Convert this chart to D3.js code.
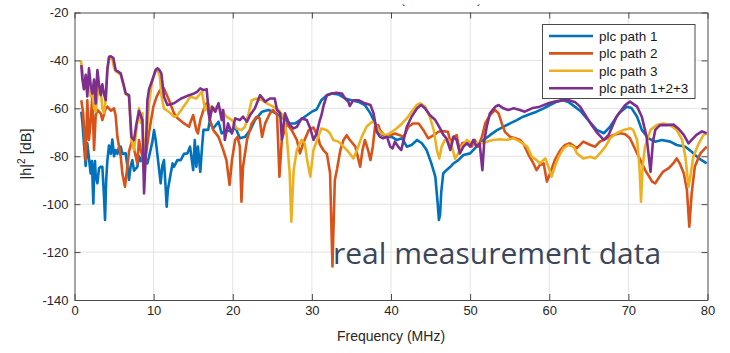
<!DOCTYPE html>
<html>
<head>
<meta charset="utf-8">
<script src="https://cdn.jsdelivr.net/npm/d3@7"></script>
<style>
  body { margin: 0; background: #fff; }
  svg { display: block; }
  .tick text { font-family: "Liberation Sans", Arial, sans-serif; font-size: 13px; fill: #262626; }
</style>
</head>
<body>
<svg id="chart" width="730" height="353"></svg>
<script>
// [frequency MHz, |h|^2 dB]
const path1 = [
  [0.86,-61.4],[1.0,-66],[1.2,-75],[1.41,-84],[1.62,-74.6],[1.8,-80],[2.04,-87.2],[2.2,-82],[2.38,-99.7],[2.5,-85],
  [2.59,-82],[2.68,-88],[2.89,-91.3],[3.1,-85],[3.31,-84.4],[3.52,-84.4],[3.73,-96.9],[3.86,-106.6],[4.0,-90],[4.15,-82],
  [4.36,-75.5],[4.6,-79],[4.78,-73],[5.0,-80],[5.2,-77.4],[5.42,-79],[5.6,-76.5],[5.84,-76],[6.05,-79],[6.47,-78.8],
  [6.68,-84],[6.89,-89.9],[7.1,-84],[7.31,-81.6],[7.52,-86],[7.94,-84.4],[8.15,-80],[8.37,-82],[8.58,-80.2],[8.79,-83],
  [9.21,-83],[9.5,-79],[9.84,-74],[10.05,-69.1],[10.26,-73.2],[10.5,-80],[10.89,-91.3],[11.1,-84],[11.31,-81.6],[11.5,-92],
  [11.65,-101.1],[11.8,-94],[12.16,-87.2],[12.4,-83],[12.58,-84.4],[13.0,-81.6],[13.42,-81.6],[13.84,-79],[14.27,-78.8],[14.6,-76],
  [15.0,-85.8],[15.2,-73.2],[15.4,-84.4],[15.6,-76],[15.9,-86.5],[16.1,-77],[16.3,-69],[16.9,-69],[17.1,-65],[17.5,-68.5],
  [18.2,-65.6],[18.6,-70.5],[19.2,-69.1],[19.9,-69.8],[20.3,-67.7],[20.9,-72.5],[21.55,-71.9],[22.2,-69.1],[22.8,-64.9],[23.7,-61.4],
  [24.5,-60.7],[25.1,-61.4],[25.8,-62.8],[26.4,-64.2],[27.2,-66.3],[27.9,-66.3],[28.5,-64.9],[29.1,-63.5],[30.0,-61.4],[30.6,-60.5],
  [31.2,-56.6],[31.9,-54.5],[32.5,-53.8],[33.35,-54.2],[34.2,-55.9],[35.0,-56.6],[35.9,-57.3],[36.7,-58.6],[37.4,-62.1],[38.0,-66.3],
  [38.6,-70.5],[39.5,-71.9],[40.1,-71.9],[40.7,-73.2],[41.4,-72.5],[42.0,-76],[42.6,-75.3],[43.3,-73.2],[43.9,-74.6],[44.5,-77.4],
  [45.1,-83],[45.6,-88.5],[45.9,-99.7],[46.05,-106.6],[46.2,-104.5],[46.35,-95],[46.6,-87.2],[47.0,-85.8],[47.5,-84.4],[47.9,-83],
  [48.5,-81.6],[49.15,-79.5],[50.0,-78.8],[50.8,-76],[51.7,-73.2],[52.5,-71.2],[53.4,-69.1],[54.2,-67.7],[55.05,-66.3],[55.9,-64.9],
  [56.7,-63.5],[57.6,-62.4],[58.4,-61.4],[59.3,-60],[60.1,-58.6],[60.95,-57.2],[61.8,-56.6],[62.5,-57.5],[63.3,-59.5],[63.9,-61],
  [65.2,-66],[66.0,-69],[66.9,-70.4],[67.7,-67.6],[68.8,-62.1],[69.8,-59.3],[70.4,-59.9],[71.1,-63.5],[71.7,-69],[72.5,-72.5],
  [73.4,-73.9],[74.2,-73.2],[75.3,-73.9],[76.1,-75.3],[77.2,-76],[78.0,-78.1],[78.9,-80.9],[79.9,-83]
];
const path2 = [
  [0.86,-56.6],[1.1,-62],[1.41,-81.6],[1.62,-56.6],[1.83,-73.2],[2.04,-65],[2.25,-55.2],[2.47,-77.4],[2.68,-63],[2.89,-60.7],
  [3.31,-62.1],[3.52,-64.9],[3.94,-60],[4.15,-59.3],[4.6,-61],[4.99,-60],[5.2,-63],[5.42,-71.9],[5.84,-80],[6.05,-87.2],
  [6.38,-92.7],[6.68,-84.4],[6.89,-78],[7.31,-73.2],[7.6,-78],[7.94,-83],[8.15,-73.2],[8.37,-77.4],[8.58,-80],[8.79,-86],
  [9.0,-80],[9.42,-70],[9.97,-59.3],[10.4,-55],[10.81,-52.4],[11.31,-51.7],[11.95,-56.6],[12.58,-62.1],[13.0,-64],[13.84,-66.3],
  [14.48,-67.7],[14.6,-66.3],[15.0,-62.8],[15.4,-69.1],[15.6,-70.5],[15.9,-64.9],[16.3,-60.7],[16.7,-57.9],[17.1,-64.9],[17.55,-69.1],
  [18.2,-71.9],[18.8,-77.4],[19.2,-81.6],[19.6,-92],[19.9,-81.6],[20.3,-73.2],[20.6,-71.9],[20.9,-76],[21.1,-99],[21.3,-84.4],
  [21.8,-73.2],[22.4,-66.3],[23.0,-63.5],[23.4,-64.2],[23.7,-71.9],[24.1,-66.3],[24.7,-62.1],[25.1,-60.7],[25.6,-62.8],[25.9,-88.5],
  [26.2,-73.2],[26.8,-66.3],[27.45,-69.1],[28.1,-73.2],[28.5,-78.8],[28.9,-74.6],[29.6,-69.1],[30.2,-68],[30.8,-72],[31.0,-75],
  [31.45,-77.4],[31.9,-79],[32.3,-87],[32.6,-126],[32.9,-90],[33.2,-85],[33.6,-77.4],[34.0,-73.2],[34.4,-71.2],[34.8,-73.2],
  [35.5,-76],[35.9,-81.6],[36.1,-84.4],[36.4,-77.4],[36.7,-73.2],[37.1,-77.4],[37.4,-81.6],[37.7,-76],[38.0,-67],[38.4,-67],
  [38.6,-69.1],[39.3,-71.9],[39.9,-71.2],[40.5,-70.5],[41.1,-71.2],[41.6,-71.9],[42.2,-67.7],[42.8,-66.3],[43.5,-66.3],[44.1,-69.1],
  [44.7,-72.5],[45.4,-71.2],[46.0,-69.8],[46.5,-69.5],[47.2,-69.8],[47.55,-74.6],[47.9,-71.9],[48.3,-71.2],[48.65,-77.4],[49.0,-74.6],
  [49.6,-73.9],[50.2,-76],[50.6,-73.2],[51.0,-76],[51.5,-71.9],[51.9,-66.3],[52.5,-62.8],[53.15,-60.7],[53.6,-62.1],[54.0,-66.3],
  [54.4,-69.8],[55.05,-71.9],[55.7,-72.5],[56.3,-73.2],[56.7,-74.6],[57.4,-79.5],[58.0,-83],[58.4,-85.8],[58.8,-83.7],[59.3,-83],
  [59.7,-90.6],[60.1,-87.2],[60.7,-81.6],[61.4,-77.4],[62.0,-75.3],[62.6,-74.6],[63.5,-76.6],[64.3,-73.9],[65.2,-75.3],[65.8,-76],
  [66.4,-73.9],[67.3,-72.5],[68.1,-71.1],[69.0,-70.4],[69.6,-70.8],[70.2,-72.5],[70.9,-77.4],[71.5,-81.5],[72.1,-85.7],[72.5,-87.8],
  [73.0,-90.6],[73.4,-91.3],[73.8,-89.2],[74.4,-86.4],[75.1,-85],[75.7,-82.9],[76.1,-80.9],[76.5,-83],[77.0,-87.1],[77.4,-94.1],
  [77.7,-109.4],[78.0,-95.5],[78.4,-84.3],[79.1,-78.8],[79.9,-76]
];
const path3 = [
  [0.8,-40],[1.0,-44],[1.2,-52],[1.4,-48],[1.62,-50],[1.83,-45.5],[2.04,-55],[2.25,-52],[2.47,-60],[2.68,-61.4],
  [2.89,-55],[3.1,-50],[3.31,-52],[3.52,-60],[3.73,-62],[3.94,-56.5],[4.15,-44],[4.36,-39],[4.78,-39.5],[4.99,-43],
  [5.2,-44.5],[5.84,-46],[6.47,-54],[6.89,-55],[7.19,-73],[7.52,-77.4],[7.94,-66],[8.15,-60],[8.37,-66],[8.58,-62],
  [8.79,-80],[9.21,-68],[9.42,-58],[9.84,-48],[10.26,-44],[10.47,-43.5],[10.8,-47],[11.0,-55],[11.3,-60],[11.74,-61],
  [12.1,-62],[12.6,-63.5],[13.0,-63],[13.42,-61],[13.84,-59],[14.27,-57],[14.6,-55.2],[15.4,-55.9],[16.1,-53],[16.5,-60.7],
  [16.9,-57.9],[17.3,-61.4],[18.0,-59.3],[18.6,-60.7],[19.2,-63.5],[19.9,-64.9],[20.5,-68.4],[21.1,-69.1],[21.55,-67.7],[22.0,-62.1],
  [22.4,-56.6],[23.0,-55.9],[23.7,-56.6],[24.3,-57.9],[25.1,-59.3],[25.8,-60.7],[26.4,-63.5],[26.8,-70.5],[27.2,-87.2],[27.4,-107.3],
  [27.7,-85.8],[28.1,-77.4],[28.7,-73.2],[29.1,-74.6],[29.4,-81.6],[29.8,-88.5],[30.2,-77.4],[30.8,-71.9],[31.2,-68.4],[31.9,-69.1],
  [32.3,-70.5],[32.7,-73.2],[33.35,-73.9],[34.0,-76],[34.6,-78.1],[35.25,-80.9],[35.7,-77.4],[36.3,-71.9],[36.9,-67.7],[37.6,-65.6],
  [38.0,-66.3],[38.4,-69.1],[38.8,-70.5],[39.5,-71.2],[40.1,-69.8],[40.7,-68.4],[41.4,-66.3],[42.0,-64.2],[42.6,-61.4],[43.25,-58.6],
  [43.7,-57.9],[44.3,-59.3],[44.9,-63.5],[45.4,-69.1],[45.8,-77.4],[46.1,-80.9],[46.4,-76],[46.8,-73.2],[47.3,-73.2],[47.7,-76],
  [48.1,-81],[48.5,-78.8],[48.9,-76],[49.6,-73.2],[50.2,-74.6],[50.8,-74.6],[51.5,-74.6],[52.1,-73.9],[52.9,-73.2],[53.8,-72.9],
  [54.6,-73.2],[55.5,-72.5],[56.3,-73.9],[57.2,-76],[57.8,-80.2],[58.4,-81.6],[58.8,-83],[59.5,-80.9],[59.9,-84.4],[60.3,-88.5],
  [60.7,-84.4],[61.2,-80.2],[61.8,-76.7],[62.4,-75.3],[63.1,-76],[63.5,-78.8],[64.3,-80.9],[65.2,-80.2],[65.8,-80.9],[66.4,-78.8],
  [67.1,-76],[67.7,-72.5],[68.5,-70.4],[69.4,-69],[70.2,-68.3],[70.6,-69],[71.1,-73.2],[71.4,-84.3],[71.6,-99],[71.8,-84.3],
  [72.1,-76],[72.8,-69],[73.6,-67],[74.4,-66.3],[75.3,-67],[76.1,-69],[76.8,-73.2],[77.2,-80.2],[77.6,-92.7],[77.9,-87.1],
  [78.2,-80.2],[78.9,-74.6],[79.5,-71.1],[79.9,-70.4]
];
const path123 = [
  [0.86,-42],[1.0,-48],[1.2,-52],[1.41,-46],[1.62,-55],[1.83,-43.3],[2.04,-50],[2.25,-53.8],[2.47,-48],[2.68,-58],
  [2.89,-44],[3.1,-50],[3.31,-54.5],[3.52,-50],[3.73,-54],[3.94,-56.6],[4.15,-44],[4.36,-38.5],[4.6,-38.3],[4.91,-39],
  [5.2,-44],[5.42,-44.5],[5.84,-45.4],[6.2,-50],[6.47,-53.8],[6.89,-54.5],[7.19,-71.9],[7.52,-73.2],[7.8,-67],[8.15,-61],
  [8.37,-63],[8.58,-64.9],[8.79,-95.5],[9.0,-80],[9.21,-56.6],[9.42,-52],[9.84,-48.2],[10.26,-44],[10.47,-43.3],[10.68,-43.8],
  [10.98,-45.4],[11.31,-55.2],[11.74,-58.6],[12.58,-57.9],[13.42,-56],[14.48,-54.5],[15.11,-53.8],[15.5,-53.1],[15.9,-51.7],[16.3,-52.4],
  [16.7,-52],[16.9,-59.3],[17.1,-64.9],[17.4,-59.3],[17.8,-61.4],[18.2,-57.9],[18.6,-64.9],[18.8,-60.7],[19.0,-73.2],[19.4,-66.3],
  [19.9,-70.5],[20.3,-64.2],[20.9,-64.9],[21.3,-63.5],[21.8,-65.6],[22.2,-62.8],[22.8,-60],[23.45,-54.5],[24.1,-57.2],[24.7,-55.9],
  [25.3,-55.9],[25.6,-60.7],[26.0,-62.1],[26.2,-73],[26.6,-62.1],[27.2,-67],[27.7,-68.4],[28.1,-67.7],[28.7,-64.2],[29.35,-64.9],
  [29.8,-68.4],[30.2,-73.2],[30.6,-70.5],[31.0,-65],[31.2,-63],[31.5,-58.6],[31.9,-54.5],[32.5,-53.8],[33.1,-53.5],[33.8,-53.8],
  [34.2,-55.9],[34.6,-57.2],[34.8,-59],[35.25,-56.6],[35.9,-56.6],[36.7,-57.9],[37.4,-58.6],[37.8,-62.1],[38.2,-69.8],[38.6,-71.9],
  [39.0,-72.5],[39.5,-71.9],[39.9,-76],[40.2,-76.7],[40.5,-73.9],[40.9,-76],[41.3,-77.4],[41.6,-73.2],[42.0,-67.7],[42.6,-63.5],
  [43.3,-60],[43.8,-58.6],[44.3,-60],[44.9,-62.8],[45.6,-64.9],[46.2,-68.4],[46.6,-71],[47.0,-72.5],[47.5,-77.4],[47.9,-71.9],
  [48.3,-73.2],[48.7,-78.8],[49.15,-76],[49.6,-74.6],[50.0,-76],[50.4,-73.2],[50.8,-76],[51.2,-74.6],[51.55,-85.8],[51.8,-73.2],
  [52.1,-67.7],[52.5,-62.1],[53.2,-59.3],[53.6,-58.6],[54.2,-60],[54.8,-60.7],[55.5,-60],[56.3,-60.7],[56.9,-61.4],[57.8,-60],
  [58.8,-59.3],[59.9,-57.9],[60.7,-57.2],[61.6,-56.6],[62.4,-56.5],[63.3,-57.5],[63.9,-59.3],[65.2,-66.2],[66.0,-70],[66.9,-73.2],
  [67.5,-71.1],[68.5,-63.5],[69.6,-58.6],[70.2,-57.2],[71.1,-59.3],[71.7,-63.5],[72.3,-71.8],[72.8,-86.5],[73.1,-74],[73.4,-69],
  [74.0,-67],[74.9,-67],[75.7,-66.8],[76.3,-68.4],[77.0,-71.1],[77.6,-74.6],[78.0,-73.2],[78.6,-71.1],[79.3,-69.6],[79.9,-70.4]
];

const seriesNames = ["plc path 1", "plc path 2", "plc path 3", "plc path 1+2+3"];
const seriesColors = ["#0072BD", "#D95319", "#EDB120", "#7E2F8E"];
const xTicks = [0, 10, 20, 30, 40, 50, 60, 70, 80];
const yTicks = [-140, -120, -100, -80, -60, -40, -20];

const mLeft = 74.5, mTop = 12.5, mRight = 707.5, mBottom = 300;

const svg = d3.select("#chart");
const x = d3.scaleLinear().domain([0, 80]).range([mLeft, mRight]);
const y = d3.scaleLinear().domain([-140, -20]).range([mBottom, mTop]);

// grid
const grid = svg.append("g").attr("stroke", "#e3e3e3").attr("stroke-width", 1);
grid.selectAll(".gx").data(xTicks.slice(1, -1)).join("line")
    .attr("x1", d => x(d)).attr("x2", d => x(d)).attr("y1", mTop).attr("y2", mBottom);
grid.selectAll(".gy").data(yTicks.slice(1, -1)).join("line")
    .attr("x1", mLeft).attr("x2", mRight).attr("y1", d => y(d)).attr("y2", d => y(d));

// lines
const line = d3.line().x(d => x(d[0])).y(d => y(d[1]));
[path1, path2, path3, path123].forEach((s, i) => {
  svg.append("path")
     .datum(s)
     .attr("d", line)
     .attr("fill", "none")
     .attr("stroke", seriesColors[i])
     .attr("stroke-width", 2.6)
     .attr("stroke-linejoin", "round");
});

// axes, ticks inward like matlab, plain hyphen minus
const axColor = "#4a4a4a";
const fmt = d => String(d);
svg.append("g").attr("transform", "translate(0," + mBottom + ")")
   .call(d3.axisBottom(x).tickValues(xTicks).tickFormat(fmt).tickSizeInner(-6).tickSizeOuter(0).tickPadding(6))
   .call(g => g.select(".domain").attr("stroke", axColor))
   .call(g => g.selectAll(".tick line").attr("stroke", axColor));
svg.append("g").attr("transform", "translate(0," + mTop + ")")
   .call(d3.axisTop(x).tickValues(xTicks).tickSizeInner(-6).tickSizeOuter(0).tickFormat(""))
   .call(g => g.select(".domain").attr("stroke", axColor))
   .call(g => g.selectAll(".tick line").attr("stroke", axColor));
svg.append("g").attr("transform", "translate(" + mLeft + ",0)")
   .call(d3.axisLeft(y).tickValues(yTicks).tickFormat(fmt).tickSizeInner(-6).tickSizeOuter(0).tickPadding(6))
   .call(g => g.select(".domain").attr("stroke", axColor))
   .call(g => g.selectAll(".tick line").attr("stroke", axColor));
svg.append("g").attr("transform", "translate(" + mRight + ",0)")
   .call(d3.axisRight(y).tickValues(yTicks).tickSizeInner(-6).tickSizeOuter(0).tickFormat(""))
   .call(g => g.select(".domain").attr("stroke", axColor))
   .call(g => g.selectAll(".tick line").attr("stroke", axColor));

// axis labels
svg.append("text")
   .attr("x", (mLeft + mRight) / 2).attr("y", 341)
   .attr("text-anchor", "middle")
   .style("font", "14px 'Liberation Sans', Arial, sans-serif").attr("fill", "#262626")
   .text("Frequency (MHz)");

const yl = svg.append("text")
   .attr("transform", "translate(31,154)rotate(-90)")
   .attr("text-anchor", "middle")
   .style("font", "14.5px 'Liberation Sans', Arial, sans-serif").attr("fill", "#262626");
yl.append("tspan").text("|h|");
yl.append("tspan").attr("dy", -6).style("font-size", "10px").text("2");
yl.append("tspan").attr("dy", 6).text(" [dB]");

// legend
const legend = svg.append("g");
legend.append("rect")
      .attr("x", 542.5).attr("y", 24.5).attr("width", 152.5).attr("height", 74)
      .attr("fill", "#fff").attr("stroke", "#4a4a4a").attr("stroke-width", 1);
seriesNames.forEach((name, i) => {
  const ly = 36 + i * 17.4;
  legend.append("line")
        .attr("x1", 549).attr("x2", 593).attr("y1", ly).attr("y2", ly)
        .attr("stroke", seriesColors[i]).attr("stroke-width", 2.6);
  legend.append("text")
        .attr("x", 599).attr("y", ly + 4.7)
        .style("font", "13.5px 'Liberation Sans', Arial, sans-serif").attr("fill", "#1a1a1a")
        .text(name);
});

// overlay caption
svg.append("text")
   .attr("x", 333).attr("y", 264)
   .style("font", "30px 'Open Sans', sans-serif").attr("fill", "#3b4658")
   .text("real measurement data");

// clipped title fragments at the top
svg.append("text").attr("x", 402).attr("y", 11).style("font", "bold 9px sans-serif").attr("fill", "#222").text("`");
svg.append("text").attr("x", 477).attr("y", 11).style("font", "bold 9px sans-serif").attr("fill", "#222").text("´");
</script>
</body>
</html>
